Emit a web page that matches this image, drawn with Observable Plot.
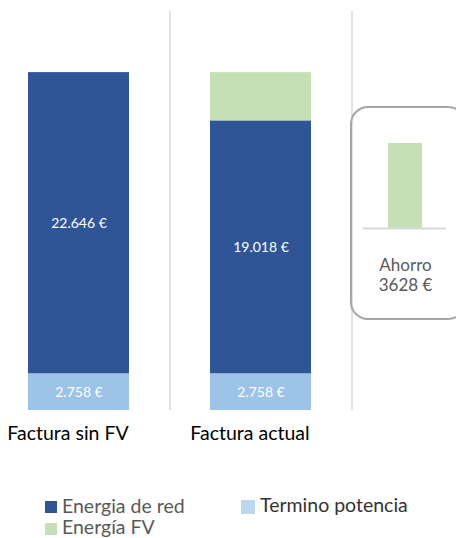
<!DOCTYPE html>
<html>
<head>
<meta charset="utf-8">
<script src="https://cdn.jsdelivr.net/npm/d3@7"></script>
<script src="https://cdn.jsdelivr.net/npm/@observablehq/plot@0.6"></script>
<style>
  html, body { margin: 0; padding: 0; background: #fff; }
  #wrap { position: relative; width: 456px; height: 538px; overflow: hidden; font-family: Lato, "Open Sans", sans-serif; }
  #main { position: absolute; left: 0; top: 0; }
  #inset { position: absolute; left: 350px; top: 106px; width: 116px; height: 214px; }
  #inset .box { position: absolute; left: 0; top: 0; width: 116px; height: 214px; box-sizing: border-box; border: 2px solid #a6a6a6; border-radius: 18px; }
  #inset svg { position: absolute; left: 0; top: 0; }
  .legend { position: absolute; font-size: 19.5px; line-height: 1; white-space: nowrap; }
</style>
</head>
<body>
<div id="wrap">
  <div id="main"></div>
  <div id="inset"><div class="box"></div></div>
  <div id="legend"></div>
</div>
<script>
// ---- data ----
const categories = ["Factura sin FV", "Factura actual"];
const seriesNames = ["Termino potencia", "Energia de red", "Energía FV"];
const terminoPotencia = [2758, 2758];
const energiaRed = [22646, 19018];
const energiaFV = [0, 3628];
const ahorroLabel = "Ahorro";
const ahorro = 3628;
const seriesColors = ["#9DC3E6", "#2F5597", "#C5E0B4"];

// ---- build table ----
const rows = [];
categories.forEach((c, i) => {
  rows.push({cat: c, series: seriesNames[0], value: terminoPotencia[i]});
  rows.push({cat: c, series: seriesNames[1], value: energiaRed[i]});
  rows.push({cat: c, series: seriesNames[2], value: energiaFV[i]});
});
const es = d3.formatLocale({decimal: ",", thousands: ".", grouping: [3], currency: ["", " €"]});
const fmtThousands = es.format(",");
const fmt = v => fmtThousands(v) + " €";

const main = Plot.plot({
  width: 456,
  height: 450,
  margin: 0,
  style: {fontFamily: "Lato, 'Open Sans', sans-serif", background: "transparent"},
  x: {domain: categories, range: [-12.5, 351.5], paddingInner: 0.445, paddingOuter: 0.2225, axis: null},
  y: {domain: [0, 30000], range: [410, 11], axis: null},
  color: {domain: seriesNames, range: seriesColors},
  marks: [
    Plot.ruleX(categories, {x: d => d, y1: 0, y2: 30000, dx: 91, stroke: "#d9d9d9", strokeWidth: 1.5}),
    Plot.barY(rows, {x: "cat", y: "value", fill: "series", z: "series", order: null}),
    Plot.text(rows.filter(d => d.series !== "Energía FV"),
      Plot.stackY({x: "cat", y: "value", z: "series", order: null, text: d => fmt(d.value), fill: "white", fontSize: 14})),
    Plot.text(categories, {x: d => d, y: 0, dy: 23, dx: -11, text: d => d, fontSize: 19.5, fill: "#000"})
  ]
});
document.getElementById("main").appendChild(main);

const inset = Plot.plot({
  width: 116,
  height: 214,
  marginLeft: 13, marginRight: 20, marginTop: 37, marginBottom: 92,
  style: {fontFamily: "Lato, 'Open Sans', sans-serif", background: "transparent"},
  x: {domain: [ahorroLabel], paddingInner: 0.418, paddingOuter: 0.418, axis: null},
  y: {domain: [0, ahorro], axis: null},
  marks: [
    Plot.barY([ahorro], {x: () => ahorroLabel, y: d => d, fill: seriesColors[2]}),
    Plot.ruleY([0], {stroke: "#d9d9d9", strokeWidth: 2}),
    Plot.text([ahorro], {x: () => ahorroLabel, y: 0, dy: 37, text: () => ahorroLabel, fontSize: 17, fill: "#595959"}),
    Plot.text([ahorro], {x: () => ahorroLabel, y: 0, dy: 57, text: d => d + " €", fontSize: 17, fill: "#595959"})
  ]
});
document.getElementById("inset").insertBefore(inset, document.querySelector("#inset .box"));

// ---- legend ----
const legendItems = [
  {name: seriesNames[1], color: seriesColors[1], sx: 45, sy: 501, ss: 12, tx: 62, ty: 496, tc: "#595959"},
  {name: seriesNames[0], color: "#BDD7EE", sx: 241, sy: 500, ss: 14, tx: 260, ty: 495, tc: "#333333"},
  {name: seriesNames[2], color: seriesColors[2], sx: 45, sy: 523, ss: 12, tx: 62, ty: 517, tc: "#595959"}
];
const lg = document.getElementById("legend");
legendItems.forEach(it => {
  const sw = document.createElement("div");
  sw.className = "legend";
  sw.style.left = it.sx + "px"; sw.style.top = it.sy + "px";
  sw.style.width = it.ss + "px"; sw.style.height = it.ss + "px";
  sw.style.background = it.color;
  lg.appendChild(sw);
  const lb = document.createElement("div");
  lb.className = "legend";
  lb.style.left = it.tx + "px"; lb.style.top = it.ty + "px";
  lb.style.color = it.tc;
  lb.textContent = it.name;
  lg.appendChild(lb);
});
</script>
</body>
</html>
